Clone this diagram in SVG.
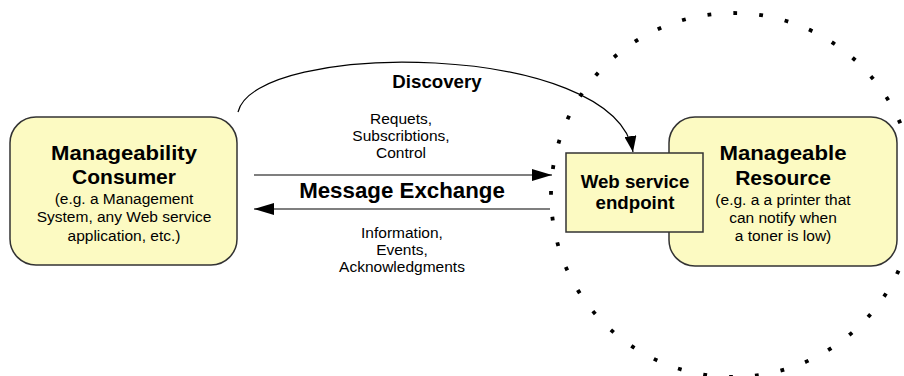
<svg xmlns="http://www.w3.org/2000/svg" width="904" height="376" viewBox="0 0 904 376">
<defs>
<style>
.box{fill:#FCFAC2;stroke:#333;stroke-width:1.5}
.t{font-family:"Liberation Sans",Arial,sans-serif;fill:#000;text-anchor:middle}
.h{font-weight:bold;font-size:21px}
.x{font-weight:bold;font-size:22.3px}
.s{font-size:15.5px}
.b{font-weight:bold;font-size:18.7px}
.c{fill:none;stroke:#000;stroke-width:1.2}
</style>
<marker id="ah" markerUnits="userSpaceOnUse" markerWidth="20" markerHeight="12" refX="20" refY="6" orient="auto">
<path d="M0,0 L20,6 L0,12 Z" fill="#000"/>
</marker>
<marker id="ah2" markerUnits="userSpaceOnUse" markerWidth="16" markerHeight="12" refX="16" refY="6" orient="auto">
<path d="M0,0 L16,6 L0,12 Z" fill="#000"/>
</marker>
</defs>
<rect width="904" height="376" fill="#fff"/>
<circle cx="733" cy="195" r="182" fill="none" stroke="#000" stroke-width="3.8" stroke-dasharray="3.8 22.19"/>
<g id="consumer">
<rect class="box" x="10" y="117" width="227" height="148" rx="26"/>
<text class="t h" x="124" y="160" textLength="146" lengthAdjust="spacingAndGlyphs">Manageability</text>
<text class="t h" x="124" y="184">Consumer</text>
<text class="t s" x="124" y="204">(e.g. a Management</text>
<text class="t s" x="124" y="222">System, any Web service</text>
<text class="t s" x="124" y="241">application, etc.)</text>
</g>
<g id="resource">
<rect class="box" x="669" y="117" width="228" height="149" rx="26"/>
<text class="t h" x="783" y="160" textLength="127" lengthAdjust="spacingAndGlyphs">Manageable</text>
<text class="t h" x="783" y="185">Resource</text>
<text class="t s" x="783" y="205">(e.g. a a printer that</text>
<text class="t s" x="783" y="223">can notify when</text>
<text class="t s" x="783" y="241">a toner is low)</text>
</g>
<g id="endpoint">
<rect class="box" x="566" y="153" width="137" height="79"/>
<text class="t b" x="635" y="188">Web service</text>
<text class="t b" x="635" y="209">endpoint</text>
</g>
<g id="connectors">
<path class="c" d="M238,112 C255,40 615,40 633,152" marker-end="url(#ah2)"/>
<line class="c" x1="254" y1="175" x2="552" y2="175" marker-end="url(#ah)"/>
<line class="c" x1="550" y1="209" x2="254" y2="209" marker-end="url(#ah)"/>
<text class="t b" x="437" y="88">Discovery</text>
<text class="t s" x="401" y="124">Requets,</text>
<text class="t s" x="401" y="141">Subscribtions,</text>
<text class="t s" x="401" y="158">Control</text>
<text class="t x" x="402" y="198">Message Exchange</text>
<text class="t s" x="402" y="238">Information,</text>
<text class="t s" x="402" y="255">Events,</text>
<text class="t s" x="402" y="272">Acknowledgments</text>
</g>
</svg>
